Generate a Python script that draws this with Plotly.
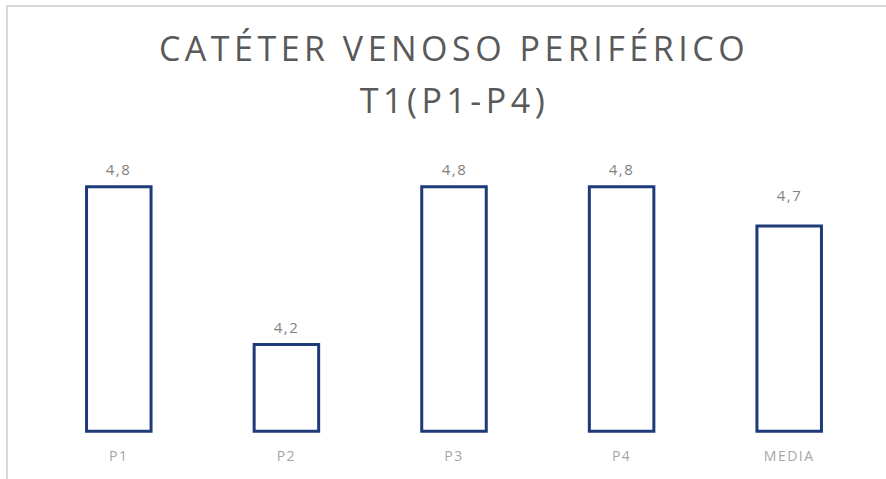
import plotly.graph_objects as go

categories = ["P1", "P2", "P3", "P4", "MEDIA"]
values = [4.8, 4.2, 4.8, 4.8, 4.65]
title_line1 = "CATÉTER VENOSO PERIFÉRICO"
title_line2 = "T1(P1-P4)"

W, H = 886, 479
ML, MR, MT, MB = 35, 13, 134, 45
PW, PH = W - ML - MR, H - MT - MB
Y0, Y1 = 3.86, 5.0
BASE = 3.87

def px_to_paper_x(px):
    return (px - ML) / PW

def px_to_paper_y(py):
    return (H - MB - py) / PH

fig = go.Figure(go.Bar(
    x=categories,
    y=[v - BASE for v in values],
    base=BASE,
    marker=dict(color="white", line=dict(color="#1F3A78", width=3)),
    cliponaxis=False,
    hoverinfo="skip",
))

label_annotations = [
    dict(
        x=c, y=v, xref="x", yref="y",
        text=f"{v:.1f}".replace(".", ","),
        showarrow=False, xanchor="center", yanchor="bottom", yshift=6,
        font=dict(family="Open Sans", size=15, color="#7F7F7F"),
    )
    for c, v in zip(categories, [round(v + 1e-9, 1) for v in values])
]

fig.update_layout(
    width=W, height=H,
    margin=dict(l=ML, r=MR, t=MT, b=MB),
    paper_bgcolor="white", plot_bgcolor="white",
    separators=",.",
    bargap=0.615,
    showlegend=False,
    title=dict(
        text=title_line1,
        font=dict(family="Open Sans", size=34, color="#595959"),
        x=0.5, xref="paper", xanchor="center",
        y=1 - 49 / H, yref="container", yanchor="middle",
    ),
    xaxis=dict(
        showgrid=False, showline=False, zeroline=False,
        tickfont=dict(family="Open Sans", size=14, color="#A6A6A6"),
        ticks="outside", ticklen=9, tickcolor="rgba(0,0,0,0)",
    ),
    yaxis=dict(range=[Y0, Y1], visible=False, showgrid=False),
    annotations=[dict(
        text=title_line2, xref="paper", yref="paper",
        x=0.5, y=px_to_paper_y(100), xanchor="center", yanchor="middle",
        showarrow=False,
        font=dict(family="Open Sans", size=34, color="#595959"),
    )] + label_annotations,
    shapes=[dict(
        type="rect", xref="paper", yref="paper",
        x0=px_to_paper_x(7), x1=px_to_paper_x(W + 20),
        y0=px_to_paper_y(H + 20), y1=px_to_paper_y(6),
        line=dict(color="#D9D9D9", width=2), fillcolor="rgba(0,0,0,0)",
        layer="below",
    )],
)

post_js = """
var gd = document.getElementById('{plot_id}');
function spaceText() {
  gd.querySelectorAll('text').forEach(function (t) {
    var fs = parseFloat(t.style.fontSize || t.getAttribute('font-size') || '12');
    t.style.letterSpacing = fs >= 30 ? '4.5px' : '1.5px';
  });
}
spaceText();
gd.on('plotly_afterplot', spaceText);
"""

fig.write_html("out.html", post_script=post_js)
